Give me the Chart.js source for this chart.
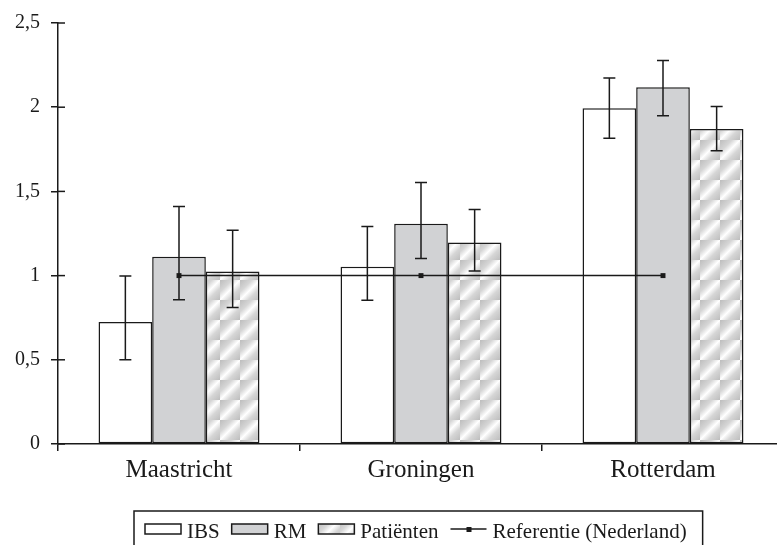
<!DOCTYPE html>
<html>
<head>
<meta charset="utf-8">
<script src="https://cdn.jsdelivr.net/npm/chart.js@4.4.0/dist/chart.umd.min.js"></script>
<style>
html,body{margin:0;padding:0;background:#fff;overflow:hidden}
#wrap{width:777px;height:545px;overflow:hidden}
</style>
</head>
<body>
<div id="wrap"><canvas id="lienzo" width="800" height="545"></canvas></div>
<script>
// data
const steden = ["Maastricht", "Groningen", "Rotterdam"]
const ibs = [0.725, 1.053, 1.994]
const ibsLaag = [0.50, 0.853, 1.816]
const ibsHoog = [0.998, 1.292, 2.173]
const rm = [1.112, 1.308, 2.118]
const rmLaag = [0.857, 1.102, 1.949]
const rmHoog = [1.41, 1.553, 2.278]
const patienten = [1.024, 1.196, 1.871]
const patLaag = [0.81, 1.028, 1.741]
const patHoog = [1.27, 1.392, 2.004]
const referentie = [1, 1, 1]
const yLabels = ["0", "0,5", "1", "1,5", "2", "2,5"]

const zwart = "#1a1a1a"
const grijs = "#d1d2d4"

// hatch tile: grey with a soft white diagonal
function maakPatroon() {
    let c = document.createElement("canvas")
    c.width = 20
    c.height = 20
    let g = c.getContext("2d")
    let grad = g.createLinearGradient(0, 0, 20, 20)
    grad.addColorStop(0, "#bdbdbd")
    grad.addColorStop(0.3, "#d6d6d6")
    grad.addColorStop(0.5, "#ffffff")
    grad.addColorStop(0.7, "#d6d6d6")
    grad.addColorStop(1, "#bdbdbd")
    g.fillStyle = grad
    g.fillRect(0, 0, 20, 20)
    return document.getElementById("lienzo").getContext("2d").createPattern(c, "repeat")
}
const patroon = maakPatroon()

const foutBalken = [[ibsLaag, ibsHoog], [rmLaag, rmHoog], [patLaag, patHoog]]

const errorPlugin = {
    id: "foutbalken",
    afterDatasetsDraw(chart) {
        const ctx = chart.ctx
        const y = chart.scales.y
        ctx.save()
        ctx.strokeStyle = zwart
        ctx.lineWidth = 1.5
        foutBalken.forEach((paar, i) => {
            const meta = chart.getDatasetMeta(i)
            meta.data.forEach((el, j) => {
                const yl = y.getPixelForValue(paar[0][j])
                const yh = y.getPixelForValue(paar[1][j])
                ctx.beginPath()
                ctx.moveTo(el.x, yl)
                ctx.lineTo(el.x, yh)
                ctx.moveTo(el.x - 6, yl)
                ctx.lineTo(el.x + 6, yl)
                ctx.moveTo(el.x - 6, yh)
                ctx.lineTo(el.x + 6, yh)
                ctx.stroke()
            })
        })
        ctx.restore()
    }
}

// inner half of the y ticks (they cross the axis)
const tickPlugin = {
    id: "binnenticks",
    afterDraw(chart) {
        const ctx = chart.ctx
        const y = chart.scales.y
        const left = chart.chartArea.left
        ctx.save()
        ctx.strokeStyle = zwart
        ctx.lineWidth = 1.5
        y.ticks.forEach(t => {
            const py = y.getPixelForValue(t.value)
            ctx.beginPath()
            ctx.moveTo(left, py)
            ctx.lineTo(left + 7, py)
            ctx.stroke()
        })
        ctx.restore()
    }
}

const legendPlugin = {
    id: "legenda",
    afterDraw(chart) {
        const ctx = chart.ctx
        ctx.save()
        ctx.font = '21px "Liberation Serif"'
        ctx.fillStyle = zwart
        ctx.textBaseline = "alphabetic"
        const items = [
            { soort: "vak", kleur: "#ffffff", tekst: "IBS" },
            { soort: "vak", kleur: grijs, tekst: "RM" },
            { soort: "vak", kleur: patroon, tekst: "Patiënten" },
            { soort: "lijn", tekst: "Referentie (Nederland)" }
        ]
        let x = 145
        const top = 524
        ctx.lineWidth = 1.5
        ctx.strokeStyle = zwart
        for (let it of items) {
            if (it.soort == "vak") {
                ctx.fillStyle = it.kleur
                ctx.fillRect(x, top, 36, 10)
                ctx.strokeRect(x, top, 36, 10)
            } else {
                ctx.beginPath()
                ctx.moveTo(x, top + 5)
                ctx.lineTo(x + 36, top + 5)
                ctx.stroke()
                ctx.fillStyle = zwart
                ctx.fillRect(x + 16, top + 3, 5, 5)
            }
            x += 42
            ctx.fillStyle = zwart
            ctx.fillText(it.tekst, x, 538)
            x += ctx.measureText(it.tekst).width + 12
        }
        ctx.strokeRect(134, 511, x - 134 + 4, 60)
        ctx.restore()
    }
}

new Chart(document.getElementById("lienzo"), {
    type: "bar",
    data: {
        labels: steden,
        datasets: [
            { label: "IBS", data: ibs, backgroundColor: "#ffffff", borderColor: zwart, borderWidth: 1.5, borderSkipped: false, order: 1 },
            { label: "RM", data: rm, backgroundColor: grijs, borderColor: zwart, borderWidth: 1.5, borderSkipped: false, order: 1 },
            { label: "Patiënten", data: patienten, backgroundColor: patroon, borderColor: zwart, borderWidth: 1.5, borderSkipped: false, order: 1 },
            {
                type: "line", label: "Referentie (Nederland)", data: referentie,
                borderColor: zwart, borderWidth: 1.5, pointStyle: "rect", pointRadius: 3.5,
                pointBackgroundColor: zwart, pointBorderWidth: 0, order: 0
            }
        ]
    },
    options: {
        responsive: false,
        animation: false,
        datasets: { bar: { categoryPercentage: 0.665, barPercentage: 1.0 } },
        layout: { padding: { top: 19, right: 16, left: 0, bottom: 0 } },
        plugins: { legend: { display: false }, tooltip: { enabled: false } },
        scales: {
            x: {
                afterFit: s => { s.height = 101 },
                grid: { offset: true, drawOnChartArea: false, tickLength: 7, color: zwart, lineWidth: 1.5 },
                border: { color: zwart, width: 1.5 },
                ticks: { color: zwart, font: { family: "Liberation Serif", size: 25 }, padding: 4 }
            },
            y: {
                min: 0, max: 2.5,
                afterFit: s => { s.width = 58 },
                grid: { drawOnChartArea: false, tickLength: 7, color: zwart, lineWidth: 1.5 },
                border: { color: zwart, width: 1.5 },
                ticks: {
                    stepSize: 0.5, color: zwart, padding: 11,
                    font: { family: "Liberation Serif", size: 20 },
                    callback: (v, i) => yLabels[i]
                }
            }
        }
    },
    plugins: [errorPlugin, tickPlugin, legendPlugin]
})
</script>
</body>
</html>
